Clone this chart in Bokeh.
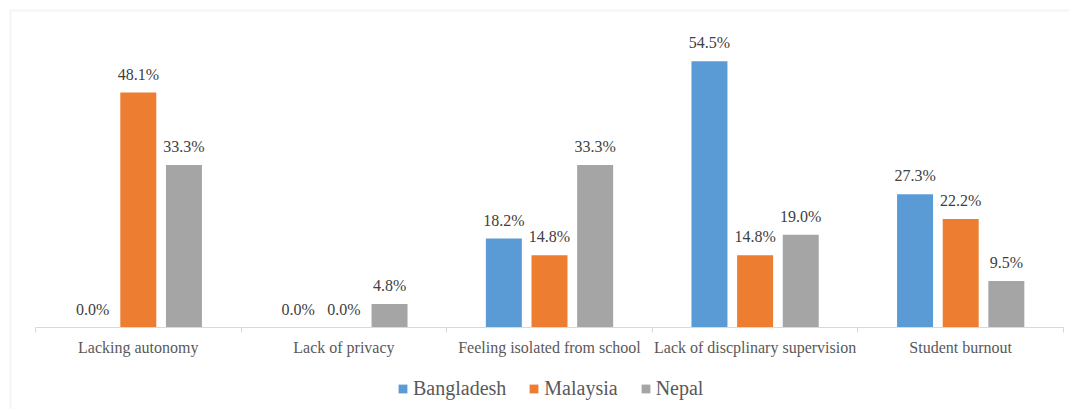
from bokeh.plotting import figure
from bokeh.models import (ColumnDataSource, FixedTicker, Range1d, Legend, LegendItem,
                          LabelSet, BoxAnnotation)
from bokeh.core.properties import value
from bokeh.transform import dodge
from bokeh.embed import file_html
from bokeh.resources import INLINE

categories = ["Lacking autonomy", "Lack of privacy", "Feeling isolated from school",
              "Lack of discplinary supervision", "Student burnout"]
series = ["Bangladesh", "Malaysia", "Nepal"]
bangladesh = [0.0, 0.0, 18.2, 54.5, 27.3]
malaysia = [48.1, 0.0, 14.8, 14.8, 22.2]
nepal = [33.3, 4.8, 33.3, 19.0, 9.5]
colors = ["#5B9BD5", "#ED7D31", "#A5A5A5"]

FONT = "Liberation Serif"

W, H = 1069, 409
PLOT_L, PLOT_R, PLOT_T, PLOT_B = 35, 1063, 34, 327   # pixel placement of the plot area
YMAX = 60
n = len(categories)
xs = (PLOT_R - PLOT_L) / n
ys = (PLOT_B - PLOT_T) / YMAX

p = figure(width=W, height=H, output_backend="svg", toolbar_location=None,
           x_range=Range1d(-PLOT_L / xs, n + (W - PLOT_R) / xs),
           y_range=Range1d(-(H - PLOT_B) / ys, YMAX + PLOT_T / ys),
           y_axis_location=None, min_border=0)
p.outline_line_color = None
p.xgrid.visible = False
p.ygrid.visible = False
p.background_fill_color = "white"
p.border_fill_color = "white"

frame_box = BoxAnnotation(left=10, right=1300, top=10, bottom=700,
                          left_units="canvas", right_units="canvas",
                          top_units="canvas", bottom_units="canvas",
                          fill_alpha=0, line_color="#d9d9d9", line_width=2, level="underlay")
p.add_layout(frame_box)

idx = [i + 0.5 for i in range(n)]
src = ColumnDataSource(dict(x=idx, Bangladesh=bangladesh, Malaysia=malaysia, Nepal=nepal,
                            lab_b=[f"{v:.1f}%" for v in bangladesh],
                            lab_m=[f"{v:.1f}%" for v in malaysia],
                            lab_n=[f"{v:.1f}%" for v in nepal]))

offsets = [-0.222, 0.0, 0.222]
labcols = ["lab_b", "lab_m", "lab_n"]
items = []
for name, col, off, lab in zip(series, colors, offsets, labcols):
    r = p.vbar(x=dodge("x", off, range=p.x_range), top=name, width=0.175, source=src,
               fill_color=col, line_color=None)
    items.append(LegendItem(label=name, renderers=[r]))
    ls = LabelSet(x=dodge("x", off, range=p.x_range), y=name, text=lab, source=src,
                  text_align="center", text_baseline="alphabetic", y_offset=13,
                  text_font=value(FONT), text_font_size=value("16px"),
                  text_color="#404040")
    p.add_layout(ls)

ax = p.xaxis[0]
ax.fixed_location = 0
ax.bounds = (0, n)
ax.ticker = FixedTicker(ticks=idx, minor_ticks=list(range(n + 1)))
ax.major_label_overrides = {v: c for v, c in zip(idx, categories)}
ax.axis_line_color = "#d9d9d9"
ax.major_tick_out = 0
ax.major_tick_in = 0
ax.minor_tick_out = 5
ax.minor_tick_in = 0
ax.minor_tick_line_color = "#d9d9d9"
ax.major_label_standoff = 6
ax.major_label_text_font = FONT
ax.major_label_text_font_size = "16px"
ax.major_label_text_color = "#595959"

legend = Legend(items=items, orientation="horizontal", location=(397, 9),
                glyph_width=11, glyph_height=11, label_standoff=5, spacing=22,
                label_text_font=FONT, label_text_font_size="20px", label_text_color="#595959",
                border_line_color=None, background_fill_alpha=0, padding=4, margin=0)
p.add_layout(legend)

open("out.html", "w").write(file_html(p, INLINE))
